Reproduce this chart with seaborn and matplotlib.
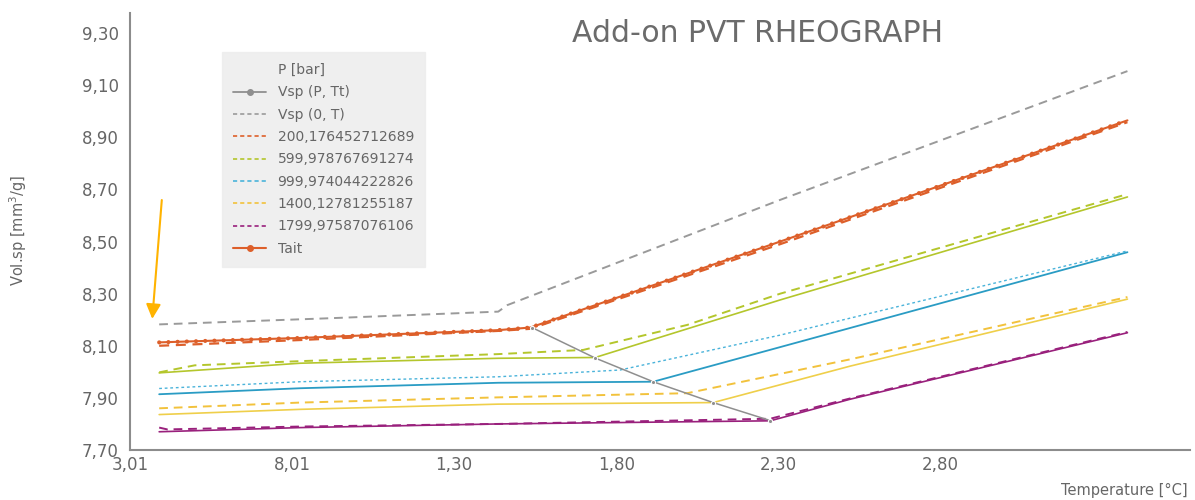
import numpy as np
import pandas as pd
import matplotlib
matplotlib.use("Agg")
import matplotlib.pyplot as plt
import seaborn as sns
from matplotlib.lines import Line2D

sns.set_style("white")
plt.rcParams['font.family'] = ['DejaVu Sans']

# ---------------- data ----------------
x_ticks = [30, 80, 130, 180, 230, 280]
x_tick_labels = ["3,01", "8,01", "1,30", "1,80", "2,30", "2,80"]
y_ticks = [7.70, 7.90, 8.10, 8.30, 8.50, 8.70, 8.90, 9.10, 9.30]
y_tick_labels = ["7,70", "7,90", "8,10", "8,30", "8,50", "8,70", "8,90", "9,10", "9,30"]

# Vsp(0, T)
t_v0 = [39, 90.2, 143.6, 146.4, 230.6, 337.7]
v_v0 = [8.182, 8.205, 8.231, 8.256, 8.660, 9.154]

# Vsp(P, Tt) - transition line
t_tt = [154, 173.5, 191.4, 209.9, 227.5]
v_tt = [8.170, 8.053, 7.962, 7.882, 7.813]

# measured (dashed) curves per pressure
t_200 = [39, 82.5, 143.6, 153.5, 230.6, 337.7]
v_200 = [8.100, 8.122, 8.157, 8.165, 8.490, 8.958]

t_600 = [39, 50, 82.5, 143.6, 169.8, 201.9, 230.6, 337.7]
v_600 = [7.998, 8.025, 8.041, 8.068, 8.084, 8.180, 8.300, 8.682]

t_1000 = [39, 82.5, 143.6, 181.2, 230.6, 337.7]
v_1000 = [7.936, 7.962, 7.981, 8.007, 8.141, 8.464]

t_1400 = [39, 82.5, 143.6, 201.9, 252.2, 337.7]
v_1400 = [7.860, 7.882, 7.902, 7.918, 8.048, 8.287]

t_1800 = [39, 41.5, 82.5, 143.6, 227.5, 252.2, 337.7]
v_1800 = [7.786, 7.779, 7.790, 7.800, 7.820, 7.898, 8.153]

# Tait fits (solid)
t_tait200 = [39, 82.5, 143.6, 153.5, 230.6, 337.7]
v_tait200 = [8.113, 8.130, 8.160, 8.170, 8.500, 8.965]

t_tait600 = [39, 82.5, 143.6, 173.5, 230.6, 337.7]
v_tait600 = [7.996, 8.033, 8.052, 8.055, 8.276, 8.671]

t_tait1000 = [39, 82.5, 143.6, 191.4, 230.6, 337.7]
v_tait1000 = [7.914, 7.937, 7.958, 7.962, 8.095, 8.459]

t_tait1400 = [39, 82.5, 143.6, 209.9, 252.2, 337.7]
v_tait1400 = [7.836, 7.856, 7.876, 7.882, 8.022, 8.279]

t_tait1800 = [39, 82.5, 143.6, 227.5, 252.2, 337.7]
v_tait1800 = [7.770, 7.786, 7.800, 7.812, 7.895, 8.150]

labels_p = ["200,176452712689", "599,978767691274", "999,974044222826",
            "1400,12781255187", "1799,97587076106"]

# ---------------- style ----------------
c_gray = "#9a9a9a"
c_orange = "#dd5f2a"
c_green = "#b4c62c"
c_blue = "#2a9cc4"
c_blue_d = "#4ab3da"
c_yellow = "#f2c23c"
c_yellow_s = "#efcf4a"
c_purple = "#99207c"
txt = "#666666"

fig = plt.figure(figsize=(11.95, 5.0), dpi=100)
ax = fig.add_axes([130 / 1195, 50 / 500, 1060 / 1195, 437 / 500])


def line(t, v, color, ls="-", lw=1.3, **kw):
    df = pd.DataFrame({"T": t, "V": v})
    sns.lineplot(data=df, x="T", y="V", ax=ax, color=color, linestyle=ls,
                 linewidth=lw, sort=False, estimator=None, **kw)


dash = (0, (4.5, 3))
# solid Tait fits for other pressures
line(t_tait600, v_tait600, c_green, lw=1.2)
line(t_tait1000, v_tait1000, c_blue, lw=1.3)
line(t_tait1400, v_tait1400, c_yellow_s, lw=1.2)
line(t_tait1800, v_tait1800, c_purple, lw=1.2)

# dashed measured curves
line(t_v0, v_v0, c_gray, ls=dash, lw=1.4)
line(t_600, v_600, c_green, ls=dash, lw=1.4)
line(t_1000, v_1000, c_blue_d, ls=(0, (2, 2)), lw=1.0)
line(t_1400, v_1400, c_yellow, ls=dash, lw=1.4)
line(t_1800, v_1800, c_purple, ls=dash, lw=1.4)
line(t_200, v_200, c_orange, ls=dash, lw=1.6)

# Tait 200 bar (solid with dense dots)
line(t_tait200, v_tait200, c_orange, lw=1.5)
line(t_tait200, v_tait200, c_orange, ls=(0, (0.01, 2.2)), lw=3.0,
     dash_capstyle="round")

# transition line
line(t_tt, v_tt, "#8f8f8f", lw=1.1, marker="o", markersize=3)

# axes
ax.set_xlim(30, 357)
ax.set_ylim(7.70, 9.377)
ax.set_xticks(x_ticks)
ax.set_xticklabels(x_tick_labels)
ax.set_yticks(y_ticks)
ax.set_yticklabels(y_tick_labels)
ax.tick_params(axis="both", length=0, labelsize=12, labelcolor=txt, pad=8)
ax.tick_params(axis="x", pad=4)
for s in ["top", "right"]:
    ax.spines[s].set_visible(False)
for s in ["left", "bottom"]:
    ax.spines[s].set_color("#8c8c8c")
    ax.spines[s].set_linewidth(1.5)
ax.set_xlabel("")
ax.set_ylabel("")
fig.text(18 / 1195, 1 - 230 / 500, "Vol.sp [mm$^3$/g]", rotation=90,
         ha="center", va="center", fontsize=10.5, color=txt)
fig.text(1188 / 1195, 1 - 490 / 500, "Temperature [°C]", ha="right",
         va="center", fontsize=10.5, color=txt)
fig.text(757 / 1195, 1 - 33 / 500, "Add-on PVT RHEOGRAPH", ha="center",
         va="center", fontsize=21.5, color="#6b6b6b")

# arrow
ax.annotate("", xy=(0.021, 0.30), xytext=(0.030, 0.572),
            xycoords="axes fraction",
            arrowprops=dict(arrowstyle="-|>", color="#ffb300", lw=1.5,
                            mutation_scale=22, shrinkA=0, shrinkB=0))

# legend
handles = [
    Line2D([], [], color="none"),
    Line2D([], [], color="#8f8f8f", lw=1.3, marker="o", markersize=4),
    Line2D([], [], color=c_gray, lw=1.2, ls=(0, (2.5, 1.8))),
    Line2D([], [], color=c_orange, lw=1.2, ls=(0, (2.5, 1.8))),
    Line2D([], [], color=c_green, lw=1.2, ls=(0, (2.5, 1.8))),
    Line2D([], [], color=c_blue_d, lw=1.2, ls=(0, (2.5, 1.8))),
    Line2D([], [], color=c_yellow, lw=1.2, ls=(0, (2.5, 1.8))),
    Line2D([], [], color=c_purple, lw=1.2, ls=(0, (2.5, 1.8))),
    Line2D([], [], color=c_orange, lw=1.5, marker="o", markersize=4),
]
labels = ["P [bar]", "Vsp (P, Tt)", "Vsp (0, T)"] + labels_p + ["Tait"]
leg = ax.legend(handles, labels, loc="upper left",
                bbox_to_anchor=(92 / 1060, (450 - 52) / 437),
                frameon=True, fancybox=False, fontsize=10,
                handlelength=2.4, handletextpad=0.8, labelspacing=0.6,
                borderpad=0.8, borderaxespad=0)
leg.get_frame().set_facecolor("#ececec")
leg.get_frame().set_edgecolor("#ececec")
for t in leg.get_texts():
    t.set_color(txt)

fig.savefig("out.png", dpi=100, facecolor="white")
